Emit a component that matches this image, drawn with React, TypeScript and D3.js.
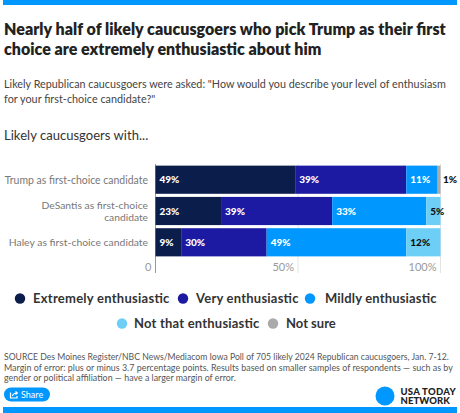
import React from "react";
import * as d3 from "d3";

const categories = ["Trump as first-choice candidate", "DeSantis as first-choice candidate", "Haley as first-choice candidate"];
const categoryLines = [["Trump as first-choice candidate"], ["DeSantis as first-choice", "candidate"], ["Haley as first-choice candidate"]];
const seriesNames = ["Extremely enthusiastic", "Very enthusiastic", "Mildly enthusiastic", "Not that enthusiastic", "Not sure"];
const extremely = [49, 23, 9];
const very = [39, 39, 30];
const mildly = [11, 33, 49];
const notThat = [0, 5, 12];
const notSure = [1, 0, 0];
const tickValues = [0, 50, 100];
const tickLabels = ["0", "50%", "100%"];
const colors = ["#0b1d4b", "#1c1aa3", "#0098ff", "#6dcff6", "#aaaaaa"];
const labelColors = ["#fff", "#fff", "#fff", "#111", "#111"];

const FONT = "Lato, 'Open Sans', sans-serif";

let _ctx: CanvasRenderingContext2D | null = null;
function measure(text: string, size: number, weight: number): number {
  if (typeof document === "undefined") return text.length * size * 0.5;
  if (!_ctx) _ctx = document.createElement("canvas").getContext("2d");
  _ctx!.font = `${weight} ${size}px Lato`;
  return _ctx!.measureText(text).width;
}

// fit text between x0 and x1: shrink the font if its natural width is larger
function Fit(props: { x0: number; x1: number; y: number; size: number; weight?: number; fill: string; anchor?: "start" | "end"; children: string }) {
  const { x0, x1, y, size, weight = 400, fill, anchor = "start", children } = props;
  const target = x1 - x0;
  const natural = measure(children, size, weight);
  const fs = natural > target ? (size * target) / natural * 0.995 : size;
  const nat2 = measure(children, fs, weight);
  return (
    <text
      x={anchor === "end" ? x1 : x0}
      y={y}
      fontSize={fs}
      fontWeight={weight}
      fill={fill}
      textAnchor={anchor}
      {...(nat2 < target ? { textLength: target * 0.995, lengthAdjust: "spacing" } : {})}
    >
      {children}
    </text>
  );
}

export default function App() {
  const W = 460, H = 413;
  const series = [extremely, very, mildly, notThat, notSure];
  const rows = categories.map((c, i) => {
    const obj: any = { cat: c };
    seriesNames.forEach((s, j) => (obj[s] = series[j][i]));
    return obj;
  });
  const stack = d3.stack<any>().keys(seriesNames)(rows);
  const x = d3.scaleLinear().domain([0, 100]).range([155.5, 440.5]);
  const y = d3.scaleBand().domain(categories).range([165, 257]).paddingInner(0.1).paddingOuter(0.02);

  const legendPos = [
    { cx: 20, x0: 33, x1: 170, y: 303 },
    { cx: 183, x0: 196, x1: 299, y: 303 },
    { cx: 310, x0: 325, x1: 437, y: 303 },
    { cx: 122, x0: 134, x1: 260, y: 328 },
    { cx: 273, x0: 286, x1: 336, y: 328 },
  ];
  const catWidths = [[4], [41, 104], [8]];

  return (
    <svg width={W} height={H} style={{ position: "absolute", left: 0, top: 0, fontFamily: FONT }}>
      <rect x={0} y={0} width={W} height={H} fill="#fff" />
      <rect x={3} y={0} width={454} height={5} fill="#0098ff" />
      <Fit x0={4} x1={448} y={35} size={17.5} weight={800} fill="#222">
        Nearly half of likely caucusgoers who pick Trump as their first
      </Fit>
      <Fit x0={4} x1={323} y={55} size={17.5} weight={800} fill="#222">
        choice are extremely enthusiastic about him
      </Fit>
      <Fit x0={4} x1={448} y={88} size={11.5} fill="#444">
        Likely Republican caucusgoers were asked: "How would you describe your level of enthusiasm
      </Fit>
      <Fit x0={4} x1={156} y={103} size={11.5} fill="#444">
        for your first-choice candidate?"
      </Fit>
      <Fit x0={4} x1={149} y={140} size={14.5} fill="#333">
        Likely caucusgoers with...
      </Fit>

      {tickValues.map((t, i) => (
        <g key={t}>
          <line x1={x(t)} x2={x(t)} y1={164} y2={273} stroke={i === 0 ? "#999" : "#e4e4e4"} strokeWidth={1} />
          <text x={x(t) - 4} y={271} fontSize={11} fill="#999" textAnchor="end">
            {tickLabels[i]}
          </text>
        </g>
      ))}

      {stack.map((layer, si) => (
        <g key={layer.key}>
          {layer.map((d, ci) => {
            const v = d[1] - d[0];
            if (v <= 0) return null;
            const x0 = x(d[0]);
            const x1 = x(d[1]);
            const by = y(categories[ci])!;
            const bh = y.bandwidth();
            const outside = x1 - x0 < 10;
            return (
              <g key={ci}>
                <rect x={x0} y={by} width={x1 - x0} height={bh} fill={colors[si]} />
                <text
                  x={outside ? x1 + 2.5 : x0 + 4}
                  y={by + bh / 2 + 3.5}
                  fontSize={10}
                  fontWeight={900}
                  fill={outside ? "#111" : labelColors[si]}
                >
                  {`${v}%`}
                </text>
              </g>
            );
          })}
        </g>
      ))}

      {categories.map((c, ci) => {
        const lines = categoryLines[ci];
        const cy = y(c)! + y.bandwidth() / 2;
        return lines.map((l, li) => (
          <Fit
            key={c + li}
            x0={catWidths[ci][li]}
            x1={148}
            y={cy + 4 + (li - (lines.length - 1) / 2) * 12.5}
            size={11.5}
            fill="#777"
            anchor="end"
          >
            {l}
          </Fit>
        ));
      })}

      {legendPos.map((p, i) => (
        <g key={i}>
          <circle cx={p.cx} cy={p.y - 4.5} r={5.2} fill={colors[i]} />
          <Fit x0={p.x0} x1={p.x1} y={p.y} size={13} weight={700} fill="#333">
            {seriesNames[i]}
          </Fit>
        </g>
      ))}

      <Fit x0={4} x1={451} y={360} size={10} fill="#555">
        SOURCE Des Moines Register/NBC News/Mediacom Iowa Poll of 705 likely 2024 Republican caucusgoers, Jan. 7-12.
      </Fit>
      <Fit x0={4} x1={455} y={370.5} size={10} fill="#555">
        Margin of error: plus or minus 3.7 percentage points. Results based on smaller samples of respondents — such as by
      </Fit>
      <Fit x0={4} x1={237} y={381} size={10} fill="#555">
        gender or political affiliation — have a larger margin of error.
      </Fit>

      <rect x={4} y={387.5} width={46} height={14} rx={7} fill="#0098ff" />
      <g fill="none" stroke="#fff" strokeWidth={1.2}>
        <path d="M10.5 392.5 v5.5 h6.5 v-2" />
        <path d="M12.5 396 q0.5 -3 4.5 -3 M15.5 391.5 l1.8 1.5 l-1.8 1.5" />
      </g>
      <text x={21} y={397.8} fontSize={9} fill="#fff">Share</text>

      <circle cx={385} cy={396} r={9.5} fill="#0098ff" />
      <Fit x0={400.5} x1={456} y={394.5} size={9.5} weight={900} fill="#222">USA TODAY</Fit>
      <Fit x0={400.5} x1={450} y={404} size={9.5} weight={900} fill="#222">NETWORK</Fit>
      <rect x={3} y={407} width={454} height={6} fill="#0098ff" />
    </svg>
  );
}
